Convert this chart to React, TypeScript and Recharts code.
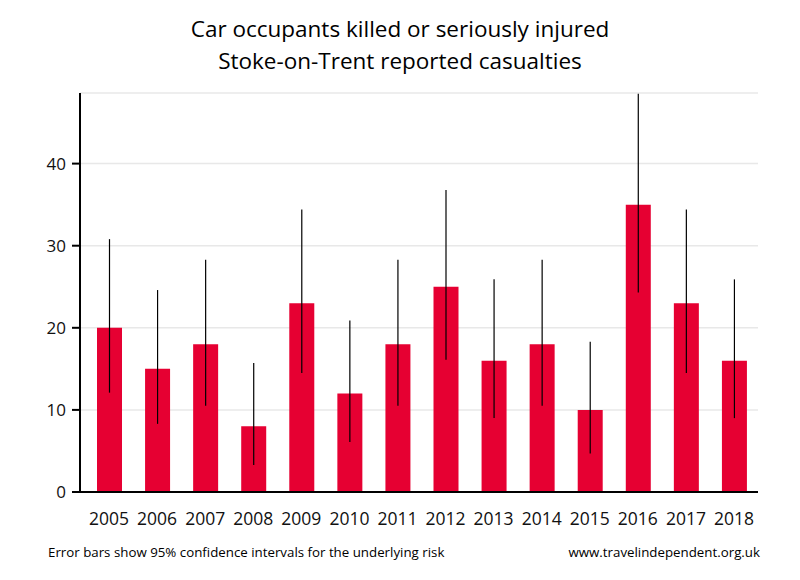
import { BarChart, Bar, XAxis, YAxis, CartesianGrid, ErrorBar } from 'recharts';

// Stoke-on-Trent, car occupants KSI, with 95% CI for the underlying risk
const years = ['2005', '2006', '2007', '2008', '2009', '2010', '2011', '2012', '2013', '2014', '2015', '2016', '2017', '2018'];
const casualties = [20, 15, 18, 8, 23, 12, 18, 25, 16, 18, 10, 35, 23, 16];
const ciLow = [12.1, 8.3, 10.5, 3.3, 14.5, 6.1, 10.5, 16.1, 9.0, 10.5, 4.7, 24.3, 14.5, 9.0];
const ciHigh = [30.8, 24.6, 28.3, 15.7, 34.4, 20.9, 28.3, 36.8, 25.9, 28.3, 18.3, 48.5, 34.4, 25.9];
const yTicks = [0, 10, 20, 30, 40];

const data = years.map((year, i) => ({
  year,
  value: casualties[i],
  err: [casualties[i] - ciLow[i], ciHigh[i] - casualties[i]],
}));

const FONT = '"Open Sans", "Noto Sans", sans-serif';

export default function App() {
  return (
    <div style={{ position: 'absolute', left: 0, top: 0, width: 800, height: 580, background: '#fff', fontFamily: FONT }}>
      <div style={{ position: 'absolute', left: 0, top: 13, width: 800, textAlign: 'center', fontSize: 22.5, lineHeight: '32px', color: '#000' }}>
        Car occupants killed or seriously injured
        <br />
        Stoke-on-Trent reported casualties
      </div>
      <BarChart
        width={800}
        height={580}
        data={data}
        margin={{ top: 93, right: 42, bottom: 58, left: 20 }}
        barSize={25}
      >
        <CartesianGrid vertical={false} stroke="#e8e8e8" strokeWidth={1.5} />
        <XAxis
          dataKey="year"
          tickLine={false}
          tickSize={0}
          tickMargin={21}
          axisLine={{ stroke: '#000', strokeWidth: 2 }}
          padding={{ left: 5, right: 0 }}
          interval={0}
          tick={{ fontSize: 17.5, fill: '#111', fontFamily: FONT }}
          height={30}
        />
        <YAxis
          width={60}
          domain={[0, 48.6]}
          ticks={yTicks}
          allowDataOverflow
          tickSize={8}
          tickMargin={6}
          tickLine={{ stroke: '#000', strokeWidth: 2 }}
          axisLine={{ stroke: '#000', strokeWidth: 2 }}
          tick={{ fontSize: 17, fill: '#111', fontFamily: FONT }}
        />
        <Bar dataKey="value" fill="#E60032" isAnimationActive={false}>
          <ErrorBar dataKey="err" width={0} stroke="#000" strokeWidth={1.2} isAnimationActive={false} />
        </Bar>
      </BarChart>
      <div style={{ position: 'absolute', left: 48, top: 543, fontSize: 13.3, color: '#000' }}>
        Error bars show 95% confidence intervals for the underlying risk
      </div>
      <div style={{ position: 'absolute', right: 40, top: 543, fontSize: 13.3, color: '#000' }}>
        www.travelindependent.org.uk
      </div>
    </div>
  );
}
